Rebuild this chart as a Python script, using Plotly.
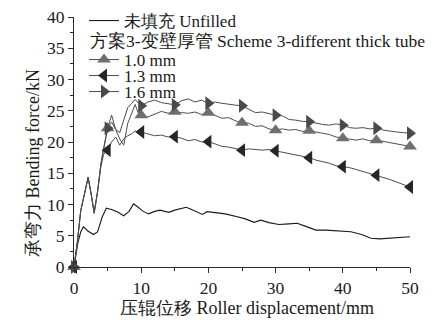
import plotly.graph_objects as go

# ---------------- data ----------------
x_unfilled = [0, 0.3, 0.6, 1.0, 1.4, 2.0, 2.9, 3.5, 4.2, 4.8, 5.6, 6.5, 7.4, 8.2, 8.85, 9.5,
              10.3, 11.1, 12.0, 12.8, 13.5, 14.1, 15.0, 16.0, 16.7, 17.5, 18.3, 19.1, 19.8,
              21.0, 22.5, 24.3, 25.5, 26.8, 27.8, 29.0, 30.5, 32.0, 33.2, 34.5, 36.0, 37.5,
              39.2, 41.2, 42.8, 44.2, 45.5, 46.7, 48.5, 50.0]
y_unfilled = [0, 2.0, 4.0, 5.6, 6.45, 5.8, 5.2, 5.6, 8.0, 9.4, 9.2, 8.8, 8.2, 8.9, 10.1, 9.6,
              8.9, 8.5, 8.9, 9.1, 8.9, 8.75, 9.1, 9.3, 9.55, 9.2, 8.8, 8.4, 8.85,
              8.7, 8.5, 8.05, 7.7, 7.15, 7.5, 7.1, 6.8, 6.9, 7.0, 6.5, 5.9, 5.9,
              5.8, 5.65, 5.2, 4.6, 4.5, 4.6, 4.7, 4.85]

x_filled = [0, 0.5, 1, 1.4, 1.8, 2.1, 2.5, 3, 3.5, 4, 4.4, 5, 5.6, 6.2, 6.8, 7.4, 8, 8.6, 9.1, 9.6,
            10, 11, 12, 13, 14, 15, 16, 17, 18, 19, 20, 21, 22, 23, 24, 25, 26, 27, 28, 29, 30,
            31, 32, 33, 34, 35, 36, 37, 38, 39, 40, 41, 42, 43, 44, 45, 46, 47, 48, 49, 50]

y_10mm = [0, 4, 9, 11, 12.5, 14.4, 12, 8.6, 12, 16.5, 18.7, 22.2, 24.3, 22, 20.5, 19.5, 23, 24.6, 26, 24.5,
          24.3, 24.0, 24.4, 24.9, 24.6, 24.85, 24.7, 24.6, 24.8, 24.4, 24.7, 24.2, 23.8, 23.9, 23.4,
          23.1, 23.0, 22.5, 22.6, 22.1, 21.9, 22.1, 21.9, 22.0, 21.7, 21.8, 21.6, 21.4, 21.2, 20.8,
          20.6, 20.4, 20.3, 20.5, 20.2, 20.3, 20.1, 19.9, 19.8, 19.6, 19.3]
y_13mm = [0, 4, 9, 11, 12.5, 14.2, 12, 8.8, 12, 16, 18, 18.7, 20, 20.8, 19.5, 20.5, 21, 21.3, 21.8, 21.5,
          21.6, 21.3, 21.0, 21.1, 20.8, 20.85, 20.6, 20.2, 20.4, 20.0, 20.05, 19.7, 19.3, 19.2, 18.9,
          18.7, 18.9, 18.8, 18.7, 18.8, 18.6, 18.4, 18.2, 18.0, 17.7, 17.5, 17.1, 16.9, 16.6, 16.2,
          16.05, 15.9, 15.6, 15.3, 14.9, 14.7, 14.4, 14.0, 13.6, 13.2, 12.8]
y_16mm = [0, 4, 9, 11, 12.5, 14.4, 12, 8.6, 12, 16.5, 19, 22.2, 23.2, 22, 21.5, 23.5, 25.5, 26.2, 26.8, 26.2,
          25.8, 26.4, 26.7, 26.3, 26.1, 25.95, 26.6, 26.9, 26.4, 26.7, 26.2, 26.4, 26.2, 26.0, 25.9,
          25.8, 25.3, 24.7, 24.8, 24.5, 24.3, 24.2, 23.6, 23.5, 23.3, 23.25, 23.0, 22.8, 22.7, 22.9,
          22.7, 22.3, 22.2, 22.3, 22.1, 22.2, 21.9, 21.7, 21.6, 21.5, 21.4]

series_names = ["1.0 mm", "1.3 mm", "1.6 mm"]
x_ticks = [0, 10, 20, 30, 40, 50]
y_ticks = [0, 5, 10, 15, 20, 25, 30, 35, 40]

# ---------------- style ----------------
SERIF = "Liberation Serif"
symbols = ["triangle-up", "triangle-left", "triangle-right"]
mcolors = ["#6f6f6f", "#262626", "#4a4a4a"]
lcolor = "#4d4d4d"

fig = go.Figure()

fig.add_trace(go.Scatter(x=x_unfilled, y=y_unfilled, mode="lines",
                         line=dict(color="#1a1a1a", width=1.1),
                         name="未填充 Unfilled", legend="legend", showlegend=True))

ys = [y_10mm, y_13mm, y_16mm]
for yv in ys:
    fig.add_trace(go.Scatter(x=x_filled, y=yv, mode="lines",
                             line=dict(color=lcolor, width=1.0), showlegend=False))

for i, yv in enumerate(ys):
    mx = [x for x in x_filled if x % 5 == 0]
    my = [y for x, y in zip(x_filled, yv) if x % 5 == 0]
    fig.add_trace(go.Scatter(x=mx, y=my, mode="markers", cliponaxis=False,
                             marker=dict(symbol=symbols[i], size=12, color=mcolors[i],
                                         line=dict(width=0)),
                             showlegend=False))

legend_names = ["legend2", "legend3", "legend4"]
for i in range(3):
    fig.add_trace(go.Scatter(x=[None], y=[None], mode="lines+markers",
                             line=dict(color=lcolor, width=1.0),
                             marker=dict(symbol=symbols[i], size=12, color=mcolors[i]),
                             name=series_names[i], legend=legend_names[i], showlegend=True))

L, R, T, B = 74, 36, 17, 53
W, H = 446, 320
pw, ph = W - L - R, H - T - B


def px(x):
    return (x - L) / pw


def py(y):
    return (H - B - y) / ph


def cx(x):
    return x / W


def cy(y):
    return 1 - y / H


legfont = dict(family=SERIF, size=17, color="#1a1a1a")
common_leg = dict(font=legfont, bgcolor="rgba(0,0,0,0)", borderwidth=0,
                  xref="container", yref="container",
                  xanchor="left", yanchor="middle", itemwidth=30)
fig.update_layout(
    legend=dict(x=cx(84), y=cy(21), **common_leg),
    legend2=dict(x=cx(84), y=cy(60), **common_leg),
    legend3=dict(x=cx(84), y=cy(76), **common_leg),
    legend4=dict(x=cx(84), y=cy(92), **common_leg),
)

fig.add_annotation(x=px(88), y=py(41), xref="paper", yref="paper", xanchor="left", yanchor="middle",
                   text="方案3-变壁厚管 Scheme 3-different thick tube", showarrow=False,
                   font=dict(family=SERIF, size=17.5, color="#1a1a1a"))

fig.add_annotation(x=px(247), y=py(308), xref="paper", yref="paper", xanchor="center", yanchor="middle",
                   text="压辊位移 Roller displacement/mm", showarrow=False,
                   font=dict(family=SERIF, size=18, color="#1a1a1a"))
fig.add_annotation(x=px(33), y=py(163), xref="paper", yref="paper", xanchor="center", yanchor="middle",
                   text="承弯力 Bending force/kN", showarrow=False, textangle=-90,
                   font=dict(family=SERIF, size=18, color="#1a1a1a"))

axis_common = dict(showgrid=False, zeroline=False, showline=True, linecolor="#2a2a2a", linewidth=1,
                   ticks="outside", tickcolor="#2a2a2a", ticklen=5, tickwidth=1,
                   tickfont=dict(family=SERIF, size=17.5, color="#1a1a1a"))
fig.update_xaxes(range=[0, 50], tickvals=x_ticks, ticktext=[str(v) for v in x_ticks],
                 minor=dict(dtick=5, ticks="outside", ticklen=3, tickcolor="#2a2a2a"),
                 **axis_common)
fig.update_yaxes(range=[0, 40], tickvals=y_ticks, ticktext=[str(v) for v in y_ticks],
                 minor=dict(dtick=2.5, ticks="outside", ticklen=3, tickcolor="#2a2a2a"),
                 **axis_common)

fig.update_layout(width=W, height=H, margin=dict(l=L, r=R, t=T, b=B, autoexpand=False),
                  paper_bgcolor="white", plot_bgcolor="white")

fig.write_html("out.html", config={"displayModeBar": False},
               post_script="document.body.style.margin='0';document.body.style.overflow='hidden';")
